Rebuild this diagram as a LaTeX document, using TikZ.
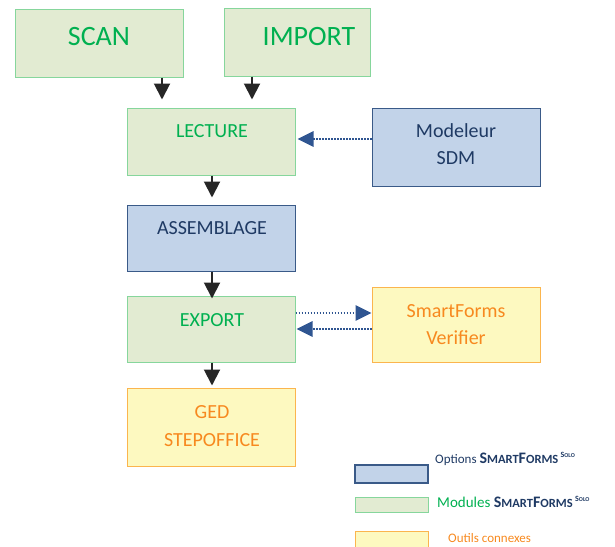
\documentclass[tikz,border=0pt]{standalone}
\usepackage{fontspec}
\setmainfont{Carlito}
\usetikzlibrary{arrows.meta}
\definecolor{gfill}{HTML}{E2EBD2}
\definecolor{gborder}{HTML}{86D69C}
\definecolor{gtextc}{HTML}{00B050}
\definecolor{bfill}{HTML}{C2D3E9}
\definecolor{bborder}{HTML}{3A5A88}
\definecolor{btextc}{HTML}{1F3A64}
\definecolor{yfill}{HTML}{FDF9C0}
\definecolor{yborder}{HTML}{FBB54E}
\definecolor{ytextc}{HTML}{F7891F}
\definecolor{arrowblk}{HTML}{262626}
\definecolor{dotblue}{HTML}{2F5591}
\newcommand\fsz[1]{\fontsize{#1}{#1}\selectfont}
\newcommand\smfword[2]{{\bfseries\fsz{#1}S\fsz{#2}MART\fsz{#1}F\fsz{#2}ORMS}}
\newcommand\solotag{\raisebox{6pt}{\bfseries\fsz{8}S\fsz{6}OLO}}
\tikzset{
  boxbase/.style={rectangle, inner sep=0pt, line width=1pt},
  gbox/.style={boxbase, draw=gborder, fill=gfill},
  bbox/.style={boxbase, draw=bborder, fill=bfill},
  ybox/.style={boxbase, draw=yborder, fill=yfill},
  gtxt/.style={inner sep=0pt, text=gtextc},
  btxt/.style={inner sep=0pt, text=btextc},
  ytxt/.style={inner sep=0pt, text=ytextc},
  blk/.style={draw=arrowblk, line width=2pt, -{Triangle[width=16pt,length=16pt]}, arrowblk},
  dotarr/.style={draw=dotblue, line width=2.8pt, dash pattern=on 1.7pt off 1.3pt, -{Triangle[width=15pt,length=16pt]}, dotblue},
}
\begin{document}
\begin{tikzpicture}[x=1pt,y=-1pt]
\useasboundingbox (0,0) rectangle (615,546);
\clip (0,0) rectangle (615,546);
% boxes
\node[gbox, minimum width=168, minimum height=68] (scan) at (99,43) {};
\node[gtxt, font=\fsz{28}] (scant) at (99,37) {SCAN};
\node[gbox, minimum width=146, minimum height=68] (import) at (297,42) {};
\node[gtxt, font=\fsz{28}] (importt) at (309,37) {IMPORT};
\node[gbox, minimum width=168, minimum height=67] (lecture) at (211,141.5) {};
\node[gtxt, font=\fsz{20}] (lecturet) at (212,131) {LECTURE};
\node[bbox, minimum width=168, minimum height=78] (sdm) at (456,147) {};
\node[btxt, font=\fsz{20}] (sdmt1) at (456,131) {Modeleur};
\node[btxt, font=\fsz{20}] (sdmt2) at (456,158) {SDM};
\node[bbox, minimum width=168, minimum height=66] (assemb) at (211,238) {};
\node[btxt, font=\fsz{20}] (assembt) at (212,228) {ASSEMBLAGE};
\node[gbox, minimum width=168, minimum height=66] (export) at (211,329) {};
\node[gtxt, font=\fsz{20}] (exportt) at (212,320) {EXPORT};
\node[ybox, minimum width=168, minimum height=75] (verif) at (456,324.5) {};
\node[ytxt, font=\fsz{20}] (veriftt1) at (456,311) {SmartForms};
\node[ytxt, font=\fsz{20}] (veriftt2) at (456,338) {Verifier};
\node[ybox, minimum width=168, minimum height=78] (ged) at (211,427) {};
\node[ytxt, font=\fsz{20}] (gedt1) at (212,412) {GED};
\node[ytxt, font=\fsz{20}] (gedt2) at (212,440) {STEPOFFICE};
% black arrows
\draw[blk] ([xshift=63pt]scan.south) -- ([xshift=-49pt,yshift=8pt]lecture.north);
\draw[blk] ([xshift=-45pt]import.south) -- ([xshift=41pt,yshift=8pt]lecture.north);
\draw[blk] ([xshift=1pt]lecture.south) -- ([xshift=1pt,yshift=7pt]assemb.north);
\draw[blk] ([xshift=1pt]assemb.south) -- ([xshift=1pt,yshift=-3pt]export.north);
\draw[blk] ([xshift=1pt]export.south) -- ([xshift=1pt,yshift=2pt]ged.north);
% dotted arrows
\draw[dotarr] ([yshift=8pt]sdm.west) -- ([yshift=8pt,xshift=2pt]sdm.west -| lecture.east);
\draw[dotarr] ([yshift=16pt]export.east) -- ([yshift=16pt]export.east -| verif.west);
\draw[dotarr] (export.east -| verif.west) -- ([xshift=1pt]export.east);
% legend
\node[bbox, line width=1.4pt, minimum width=73, minimum height=18] (legb) at (391.5,474) {};
\node[btxt, anchor=west, font=\fsz{13}] (legbt) at (435,459) {Options \smfword{16}{12.5}\,\solotag};
\node[gbox, minimum width=73, minimum height=15] (legg) at (391.5,504.5) {};
\node[gtxt, anchor=west, font=\fsz{15}] (leggt) at (437,502) {Modules \textcolor{btextc}{\smfword{16}{12.5}\,\solotag}};
\node[ybox, minimum width=73, minimum height=30] (legy) at (391.5,546) {};
\node[ytxt, anchor=west, font=\fsz{13}] (legyt) at (448,538.5) {Outils connexes};
\end{tikzpicture}
\end{document}
